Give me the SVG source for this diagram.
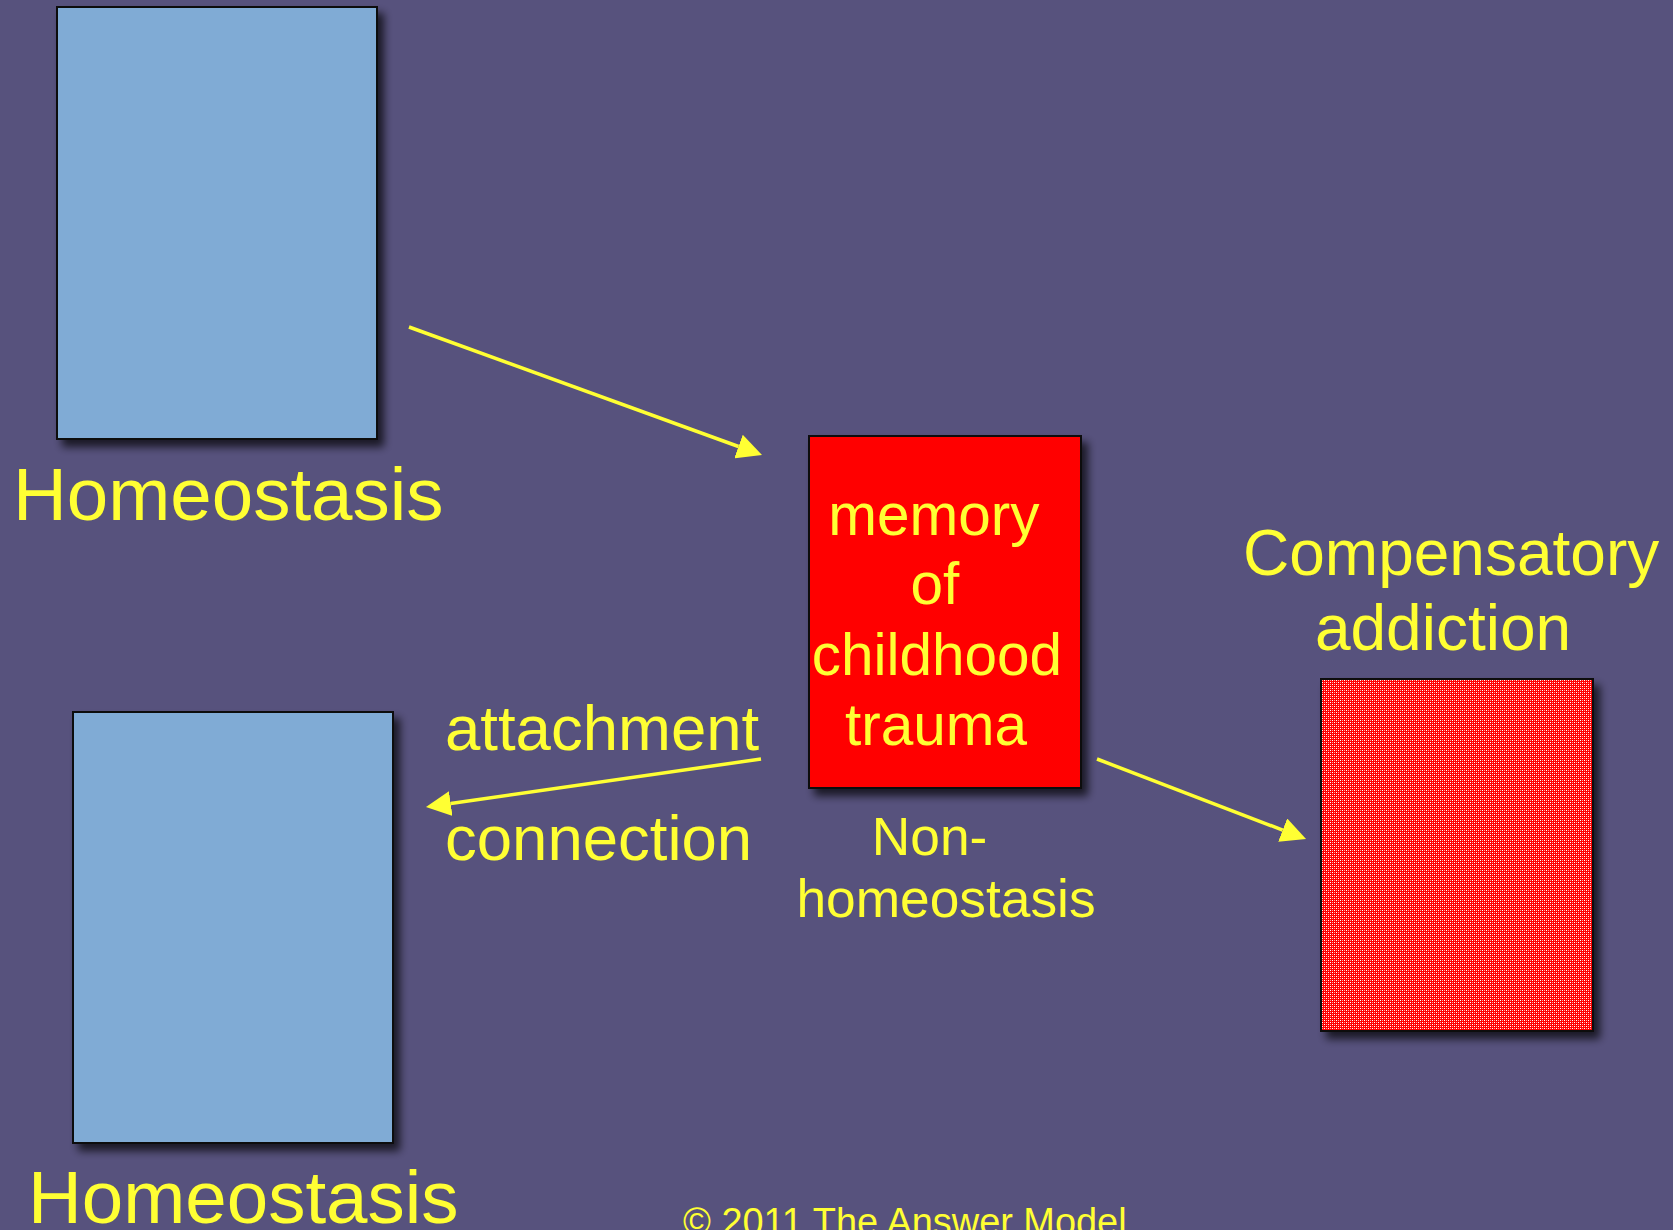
<svg xmlns="http://www.w3.org/2000/svg" width="1673" height="1230" viewBox="0 0 1673 1230">
<style>
  .t { font-family: "Liberation Sans", Arial, sans-serif; fill: #FFFF33; }
  .box { stroke: #111; stroke-width: 2; filter: url(#sh); }
  .blue { fill: #80ABD5; }
  .conn { stroke: #FFFF33; stroke-width: 3.5; fill: none; marker-end: url(#ah); }
</style>
<defs>
  <filter id="sh" x="-10%" y="-10%" width="130%" height="130%">
    <feDropShadow dx="6" dy="7" stdDeviation="4" flood-color="#000" flood-opacity="0.7"/>
  </filter>
  <marker id="ah" viewBox="0 -12.5 25 25" refX="0" refY="0" markerWidth="25" markerHeight="25" markerUnits="userSpaceOnUse" orient="auto">
    <path d="M0,-12.5 L25,0 L0,12.5 z" fill="#FFFF33"/>
  </marker>
  <pattern id="dots" x="0" y="0" width="4" height="4" patternUnits="userSpaceOnUse">
    <rect width="4" height="4" fill="#FF0000"/>
    <rect x="0" y="0" width="1" height="1" fill="#FFFFFF"/>
    <rect x="2" y="2" width="1" height="1" fill="#FFFFFF"/>
    <rect x="2" y="0" width="1" height="1" fill="#FF9A9A"/>
    <rect x="0" y="2" width="1" height="1" fill="#FF9A9A"/>
  </pattern>
</defs>
<rect width="1673" height="1230" fill="#57527D"/>

<g id="connectors">
  <line class="conn" x1="409" y1="327" x2="738.5" y2="446.5"/>
  <line class="conn" x1="761" y1="759" x2="450.7" y2="803.5"/>
  <line class="conn" x1="1097" y1="759" x2="1282.7" y2="830.1"/>
</g>

<g id="homeostasis-top">
  <rect class="box blue" x="57" y="7" width="320" height="432"/>
  <text class="t" x="13" y="520" font-size="74.5">Homeostasis</text>
</g>

<g id="homeostasis-bottom">
  <rect class="box blue" x="73" y="712" width="320" height="431"/>
  <text class="t" x="28" y="1223" font-size="74.5">Homeostasis</text>
</g>

<g id="trauma">
  <rect class="box" x="809" y="436" width="272" height="352" fill="#FF0000"/>
  <text class="t" font-size="58.5" text-anchor="middle">
    <tspan x="942" y="535">memory</tspan>
    <tspan x="943" y="604">of</tspan>
    <tspan x="945" y="675">childhood</tspan>
    <tspan x="936" y="745">trauma</tspan>
  </text>
  <text class="t" font-size="53.3" text-anchor="middle">
    <tspan x="937" y="855">Non-</tspan>
    <tspan x="946" y="917">homeostasis</tspan>
  </text>
</g>

<g id="addiction">
  <text class="t" font-size="64" text-anchor="middle">
    <tspan x="1460" y="575">Compensatory</tspan>
    <tspan x="1443" y="650">addiction</tspan>
  </text>
  <rect class="box" x="1321" y="679" width="272" height="352" fill="url(#dots)"/>
</g>

<g id="labels">
  <text class="t" x="445" y="750" font-size="63.5">attachment</text>
  <text class="t" x="445" y="860" font-size="63.5">connection</text>
  <text class="t" x="683" y="1235" font-size="37.9">© 2011 The Answer Model</text>
</g>
</svg>
